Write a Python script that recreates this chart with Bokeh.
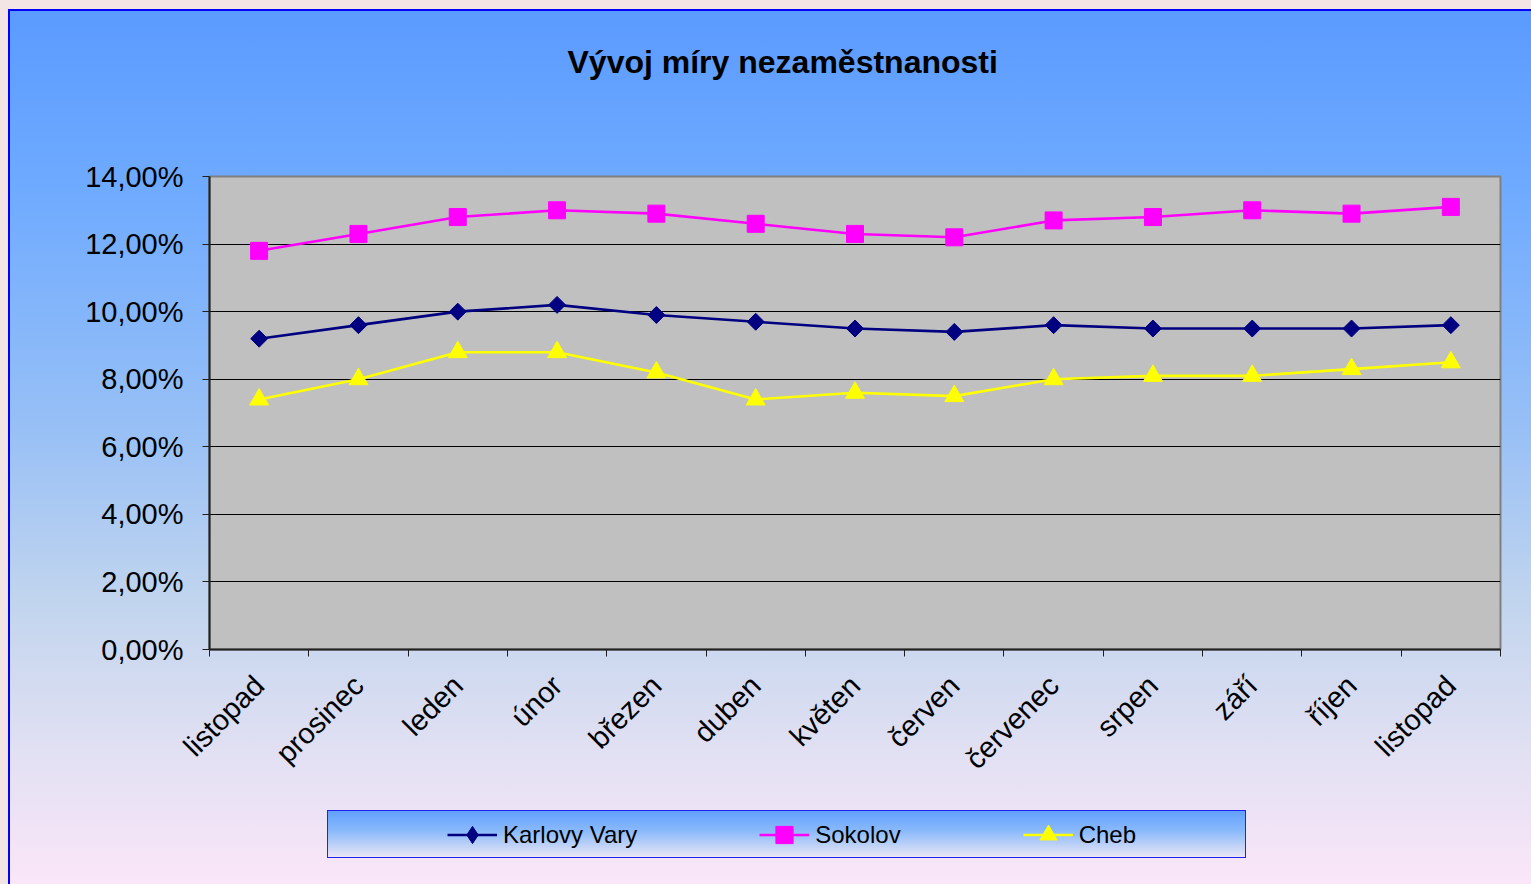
import math
from bokeh.plotting import figure
from bokeh.layouts import column
from bokeh.models import Range1d, FixedTicker, Legend, LegendItem, Label
from bokeh.embed import file_html
from bokeh.resources import INLINE

# ---- data ----
months = ["listopad", "prosinec", "leden", "únor", "březen", "duben", "květen",
          "červen", "červenec", "srpen", "září", "říjen", "listopad"]
karlovy_vary = [9.2, 9.6, 10.0, 10.2, 9.9, 9.7, 9.5, 9.4, 9.6, 9.5, 9.5, 9.5, 9.6]
sokolov = [11.8, 12.3, 12.8, 13.0, 12.9, 12.6, 12.3, 12.2, 12.7, 12.8, 13.0, 12.9, 13.1]
cheb = [7.4, 8.0, 8.8, 8.8, 8.2, 7.4, 7.6, 7.5, 8.0, 8.1, 8.1, 8.3, 8.5]
y_ticks = [0, 2, 4, 6, 8, 10, 12, 14]
series_names = ["Karlovy Vary", "Sokolov", "Cheb"]
title_text = "Vývoj míry nezaměstnanosti"

xs = list(range(len(months)))
FONT = "Liberation Sans"
W = 1531
H_TITLE, H_MAIN, H_LEG = 100, 700, 84
FRAME_L, FRAME_R = 209, 1500   # plot-area edges (frames of the column rows are aligned)


def blank(fig):
    fig.border_fill_alpha = 0
    fig.background_fill_alpha = 0
    fig.outline_line_color = None
    fig.min_border = 0
    fig.xgrid.visible = False
    fig.ygrid.visible = False


# ---- title strip ----
pt = figure(width=W, height=H_TITLE, output_backend="svg", toolbar_location=None,
            x_axis_location=None, y_axis_location=None,
            x_range=Range1d(FRAME_L, FRAME_R), y_range=Range1d(H_TITLE, 0))
blank(pt)
pt.add_layout(Label(x=567, y=61, text=title_text, text_font=FONT, text_font_size="32px",
                    text_font_style="bold", text_color="black",
                    text_baseline="alphabetic", text_align="left"))

# ---- main chart ----
p = figure(width=W, height=H_MAIN, output_backend="svg", toolbar_location=None,
           x_range=Range1d(-0.5, len(months) - 0.5), y_range=Range1d(0, 14),
           min_border_left=FRAME_L, min_border_right=W - FRAME_R, min_border_top=76,
           min_border_bottom=151)
p.border_fill_alpha = 0
p.background_fill_color = "#C0C0C0"
p.outline_line_color = "#808080"
p.outline_line_width = 2

xa = p.xaxis[0]
xa.ticker = FixedTicker(ticks=xs, minor_ticks=[i - 0.5 for i in range(len(months) + 1)])
xa.major_label_overrides = {i: m for i, m in enumerate(months)}
xa.major_tick_out = 0
xa.major_tick_in = 0
xa.minor_tick_out = 7
xa.minor_tick_in = 0
xa.minor_tick_line_color = "#202020"
xa.axis_line_color = "#202020"
xa.axis_line_width = 2
xa.major_label_orientation = math.pi / 4
xa.major_label_text_font = FONT
xa.major_label_text_font_size = "29px"
xa.major_label_text_color = "black"
xa.major_label_standoff = 24

ya = p.yaxis[0]
ya.ticker = FixedTicker(ticks=y_ticks, minor_ticks=[])
ya.major_label_overrides = {v: f"{v:.2f}%".replace(".", ",") for v in y_ticks}
ya.major_tick_out = 7
ya.major_tick_in = 0
ya.major_tick_line_color = "#202020"
ya.axis_line_color = "#202020"
ya.axis_line_width = 2
ya.major_label_text_font = FONT
ya.major_label_text_font_size = "29px"
ya.major_label_text_color = "black"
ya.major_label_standoff = 19

p.xgrid.visible = False
p.ygrid.grid_line_color = "black"
p.ygrid.grid_line_width = 1

# (colour, chart marker, size, angle, legend marker)
styles = [
    ("#000080", "square", 12, math.pi / 4, "diamond"),
    ("#FF00FF", "square", 17, 0, "square"),
    ("#FFFF00", "triangle", 19, 0, "triangle"),
]
all_vals = [karlovy_vary, sokolov, cheb]
for vals, (col, mk, sz, ang, _) in zip(all_vals, styles):
    p.line(xs, vals, line_color=col, line_width=2.6)
    p.scatter(xs, vals, marker=mk, size=sz, angle=ang, fill_color=col, line_color=col)

# ---- legend strip (same series, drawn off-frame so only the legend shows) ----
pl = figure(width=W, height=H_LEG, output_backend="svg", toolbar_location=None,
            x_axis_location=None, y_axis_location=None,
            x_range=Range1d(100, 101), y_range=Range1d(0, 1))
blank(pl)
items = []
for name, vals, (col, mk, sz, ang, lmk) in zip(series_names, all_vals, styles):
    lr = pl.line(xs, vals, line_color=col, line_width=2.6)
    sr = pl.scatter(xs, vals, marker=lmk, size=sz, fill_color=col, line_color=col)
    items.append(LegendItem(label=name, renderers=[lr, sr]))
legend = Legend(items=items, orientation="horizontal", location=(447 - FRAME_L, 28),
                padding=0, margin=0, spacing=122, label_standoff=6,
                glyph_width=50, glyph_height=43, label_height=30,
                background_fill_alpha=0, border_line_alpha=0,
                label_text_font=FONT, label_text_font_size="24px",
                label_text_color="black")
pl.add_layout(legend, "center")
LB = (328, 11, 917, 46)
pl.styles = {
    "background": (
        f"linear-gradient(#62a0ff 0%, #8cbbfb 45%, #e9e5f4 100%) {LB[0]}px {LB[1]}px / {LB[2]}px {LB[3]}px no-repeat, "
        f"linear-gradient(#2222ee, #2222ee) {LB[0]-1}px {LB[1]-1}px / {LB[2]+2}px {LB[3]+2}px no-repeat"
    )
}

layout = column(pt, p, pl, spacing=0)
layout.styles = {
    "background": (
        "linear-gradient(to bottom, #5b9bff 0%, #6eaaff 20%, #98c0f6 48%, #c2d5ee 68%, #e2e0f3 85%, #fae6f8 100%) 10px 11px / 1521px 873px no-repeat, "
        "linear-gradient(#0000ff, #0000ff) 8px 9px / 1523px 875px no-repeat, "
        "#f3e5e5"
    )
}

html = file_html(layout, INLINE)
html = html.replace("<body>", '<body style="margin:0; background:#f3e5e5; overflow:hidden;">', 1)
open("out.html", "w").write(html)
